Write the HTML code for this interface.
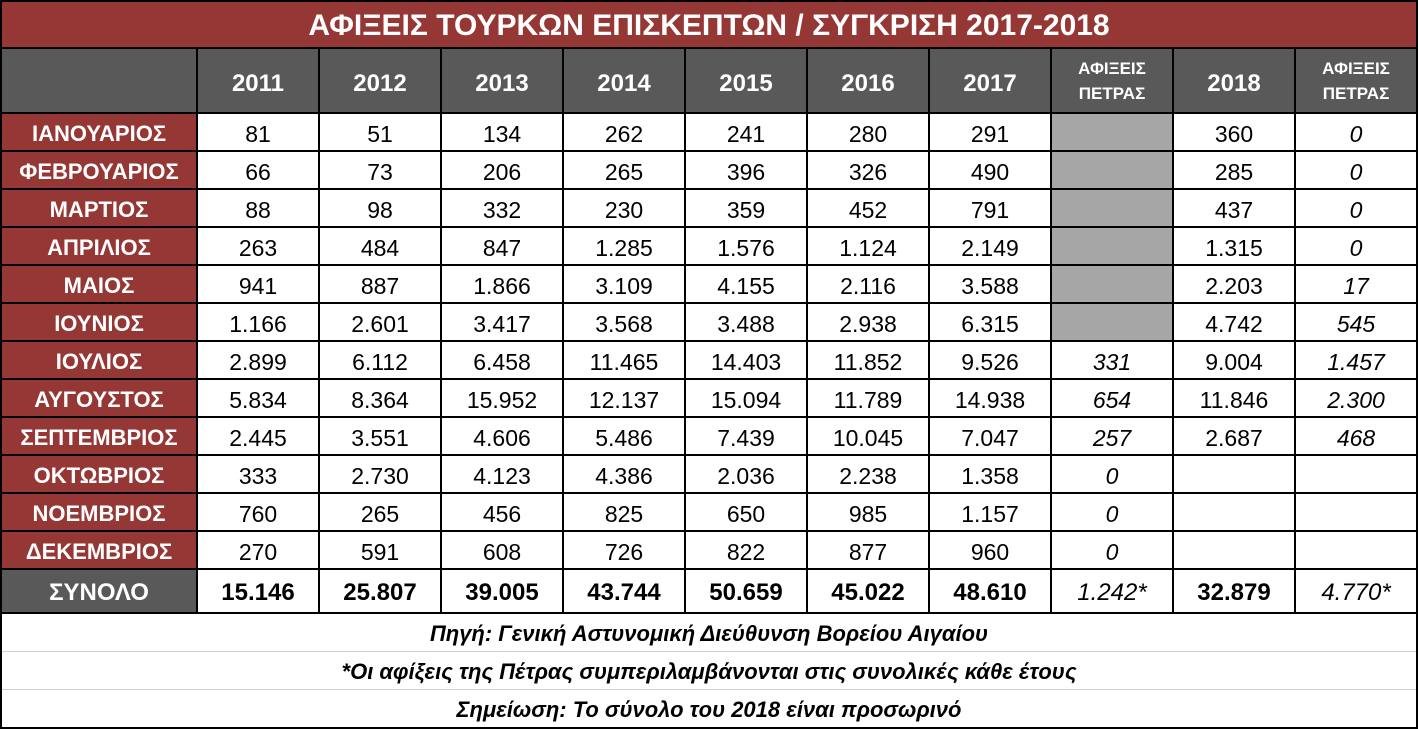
<!DOCTYPE html><html><head><meta charset="utf-8"><style>
body{margin:0;background:#fff;}
table{border-collapse:collapse;table-layout:fixed;width:1418px;font-family:"Liberation Sans","DejaVu Sans",sans-serif;}
td{border:2px solid #000;text-align:center;padding:4px 0 0 0;font-size:23px;line-height:26px;color:#000;overflow:hidden;white-space:nowrap;}
td.t{background:#953735;color:#fff;font-weight:bold;font-size:30px;height:42px;padding-top:3px;}
.h td{background:#595959;color:#fff;font-weight:bold;font-size:24px;padding-top:6px;height:57px;}
.h td.s{font-size:17px;line-height:25px;padding-top:0;height:63px;}
td.m{background:#953735;color:#fff;font-weight:bold;font-size:22px;}
td.g{background:#a6a6a6;}
td.i{font-style:italic;}
tr.tot td{font-weight:bold;font-size:24px;height:38px;}
tr.tot td.lab{background:#595959;color:#fff;}
tr.tot td.i{font-weight:normal;}
tr.r td{height:32px;}
.f td{font-style:italic;font-weight:bold;font-size:22px;border-top:1px solid #d0d0dc;border-bottom:1px solid #d0d0dc;height:34px;padding-top:3px;}
</style></head><body><table>
<colgroup><col style="width:196px"><col span="10" style="width:122px"></colgroup>
<tr><td class="t" colspan="11">ΑΦΙΞΕΙΣ ΤΟΥΡΚΩΝ ΕΠΙΣΚΕΠΤΩΝ / ΣΥΓΚΡΙΣΗ 2017-2018</td></tr>
<tr class="h"><td></td><td>2011</td><td>2012</td><td>2013</td><td>2014</td><td>2015</td><td>2016</td><td>2017</td><td class="s">ΑΦΙΞΕΙΣ<br>ΠΕΤΡΑΣ</td><td>2018</td><td class="s">ΑΦΙΞΕΙΣ<br>ΠΕΤΡΑΣ</td></tr>
<tr class="r"><td class="m">ΙΑΝΟΥΑΡΙΟΣ</td><td>81</td><td>51</td><td>134</td><td>262</td><td>241</td><td>280</td><td>291</td><td class="g"></td><td>360</td><td class="i">0</td></tr>
<tr class="r"><td class="m">ΦΕΒΡΟΥΑΡΙΟΣ</td><td>66</td><td>73</td><td>206</td><td>265</td><td>396</td><td>326</td><td>490</td><td class="g"></td><td>285</td><td class="i">0</td></tr>
<tr class="r"><td class="m">ΜΑΡΤΙΟΣ</td><td>88</td><td>98</td><td>332</td><td>230</td><td>359</td><td>452</td><td>791</td><td class="g"></td><td>437</td><td class="i">0</td></tr>
<tr class="r"><td class="m">ΑΠΡΙΛΙΟΣ</td><td>263</td><td>484</td><td>847</td><td>1.285</td><td>1.576</td><td>1.124</td><td>2.149</td><td class="g"></td><td>1.315</td><td class="i">0</td></tr>
<tr class="r"><td class="m">ΜΑΙΟΣ</td><td>941</td><td>887</td><td>1.866</td><td>3.109</td><td>4.155</td><td>2.116</td><td>3.588</td><td class="g"></td><td>2.203</td><td class="i">17</td></tr>
<tr class="r"><td class="m">ΙΟΥΝΙΟΣ</td><td>1.166</td><td>2.601</td><td>3.417</td><td>3.568</td><td>3.488</td><td>2.938</td><td>6.315</td><td class="g"></td><td>4.742</td><td class="i">545</td></tr>
<tr class="r"><td class="m">ΙΟΥΛΙΟΣ</td><td>2.899</td><td>6.112</td><td>6.458</td><td>11.465</td><td>14.403</td><td>11.852</td><td>9.526</td><td class="i">331</td><td>9.004</td><td class="i">1.457</td></tr>
<tr class="r"><td class="m">ΑΥΓΟΥΣΤΟΣ</td><td>5.834</td><td>8.364</td><td>15.952</td><td>12.137</td><td>15.094</td><td>11.789</td><td>14.938</td><td class="i">654</td><td>11.846</td><td class="i">2.300</td></tr>
<tr class="r"><td class="m">ΣΕΠΤΕΜΒΡΙΟΣ</td><td>2.445</td><td>3.551</td><td>4.606</td><td>5.486</td><td>7.439</td><td>10.045</td><td>7.047</td><td class="i">257</td><td>2.687</td><td class="i">468</td></tr>
<tr class="r"><td class="m">ΟΚΤΩΒΡΙΟΣ</td><td>333</td><td>2.730</td><td>4.123</td><td>4.386</td><td>2.036</td><td>2.238</td><td>1.358</td><td class="i">0</td><td></td><td></td></tr>
<tr class="r"><td class="m">ΝΟΕΜΒΡΙΟΣ</td><td>760</td><td>265</td><td>456</td><td>825</td><td>650</td><td>985</td><td>1.157</td><td class="i">0</td><td></td><td></td></tr>
<tr class="r"><td class="m">ΔΕΚΕΜΒΡΙΟΣ</td><td>270</td><td>591</td><td>608</td><td>726</td><td>822</td><td>877</td><td>960</td><td class="i">0</td><td></td><td></td></tr>
<tr class="tot"><td class="lab">ΣΥΝΟΛΟ</td><td>15.146</td><td>25.807</td><td>39.005</td><td>43.744</td><td>50.659</td><td>45.022</td><td>48.610</td><td class="i">1.242*</td><td>32.879</td><td class="i">4.770*</td></tr>
<tr class="f"><td colspan="11" style="border-top:2px solid #000">Πηγή: Γενική Αστυνομική Διεύθυνση Βορείου Αιγαίου</td></tr>
<tr class="f"><td colspan="11">*Οι αφίξεις της Πέτρας συμπεριλαμβάνονται στις συνολικές κάθε έτους</td></tr>
<tr class="f"><td colspan="11" style="border-bottom:2px solid #000">Σημείωση: Το σύνολο του 2018 είναι προσωρινό</td></tr>
</table></body></html>
